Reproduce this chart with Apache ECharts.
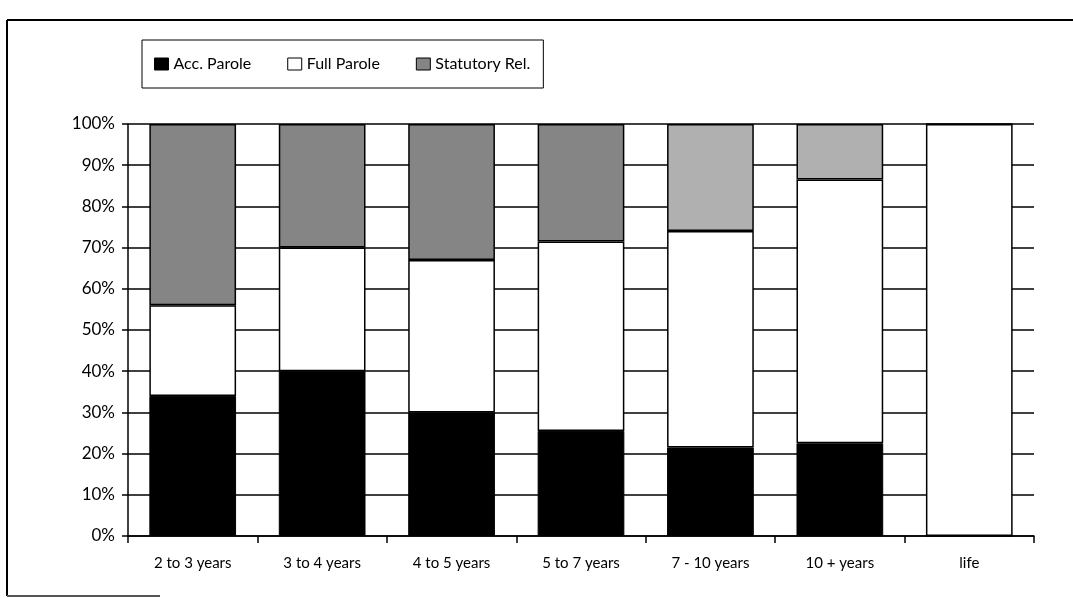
<!DOCTYPE html>
<html>
<head>
<meta charset="utf-8">
<script src="https://cdn.jsdelivr.net/npm/echarts@6/dist/echarts.min.js"></script>
<style>
html,body{margin:0;padding:0;background:#fff;}
#chart{width:1073px;height:598px;}
</style>
</head>
<body>
<div id="chart"></div>
<script>
var categories = ['2 to 3 years', '3 to 4 years', '4 to 5 years', '5 to 7 years', '7 - 10 years', '10 + years', 'life'];
var accParole = [34, 40, 30, 25.5, 21.5, 22.5, 0];
var fullParole = [22, 30, 37, 46, 52.5, 64, 100];
var statutoryRel = [44, 30, 33, 28.5, 26, 13.5, 0];
var yTickLabels = ['0%', '10%', '20%', '30%', '40%', '50%', '60%', '70%', '80%', '90%', '100%'];
var legendNames = ['Acc. Parole', 'Full Parole', 'Statutory Rel.'];

var FONT = 'Lato';
var GREY_DARK = '#858585';
var GREY_LIGHT = '#b0b0b0';
var chart = echarts.init(document.getElementById('chart'), null, {renderer: 'canvas'});

var option = {
  animation: false,
  backgroundColor: '#fff',
  textStyle: {fontFamily: FONT, color: '#000'},
  legend: {
    left: 142, top: 40,
    padding: [16, 13, 16, 12],
    borderColor: '#000', borderWidth: 1,
    itemWidth: 14, itemHeight: 12, itemGap: 36,
    icon: 'rect',
    textStyle: {fontFamily: FONT, fontSize: 16, color: '#000'},
    data: [
      {name: legendNames[0], itemStyle: {color: '#000', borderColor: '#000', borderWidth: 1}},
      {name: legendNames[1], itemStyle: {color: '#fff', borderColor: '#000', borderWidth: 1}},
      {name: legendNames[2], itemStyle: {color: GREY_DARK, borderColor: '#000', borderWidth: 1}}
    ]
  },
  grid: {left: 128, right: 39, top: 124, bottom: 62, containLabel: false},
  xAxis: {
    type: 'category',
    data: categories,
    boundaryGap: true,
    axisLine: {show: true, lineStyle: {color: '#000', width: 1.5}},
    axisTick: {show: true, length: 7, alignWithLabel: false, lineStyle: {color: '#000', width: 1.5}},
    axisLabel: {fontFamily: FONT, fontSize: 15, color: '#000', margin: 20},
    splitLine: {show: false}
  },
  yAxis: {
    type: 'value',
    min: 0, max: 100, interval: 10,
    axisLine: {show: true, lineStyle: {color: '#000', width: 1.5}},
    axisTick: {show: true, length: 6, lineStyle: {color: '#000', width: 1.5}},
    axisLabel: {
      fontFamily: FONT, fontSize: 17, color: '#000', margin: 13,
      formatter: function (v) { return yTickLabels[Math.round(v / 10)]; }
    },
    splitLine: {show: true, lineStyle: {color: '#000', width: 1.5}}
  },
  series: [
    {
      name: legendNames[0], type: 'bar', stack: 'total', data: accParole,
      barCategoryGap: '33%',
      itemStyle: {color: '#000', borderColor: '#000', borderWidth: 1}
    },
    {
      name: legendNames[1], type: 'bar', stack: 'total', data: fullParole,
      itemStyle: {color: '#fff', borderColor: '#000', borderWidth: 1.5}
    },
    {
      name: legendNames[2], type: 'bar', stack: 'total', data: statutoryRel,
      itemStyle: {
        color: function (p) { return p.dataIndex >= 4 ? GREY_LIGHT : GREY_DARK; },
        borderColor: '#000', borderWidth: 1.5
      }
    }
  ],
  graphic: [
    {type: 'line', shape: {x1: 7, y1: 20, x2: 1073, y2: 20}, style: {stroke: '#000', lineWidth: 2}},
    {type: 'line', shape: {x1: 7, y1: 20, x2: 7, y2: 596}, style: {stroke: '#000', lineWidth: 2}},
    {type: 'line', shape: {x1: 7, y1: 596, x2: 160, y2: 596}, style: {stroke: '#555', lineWidth: 2}}
  ]
};
chart.setOption(option);
</script>
</body>
</html>
